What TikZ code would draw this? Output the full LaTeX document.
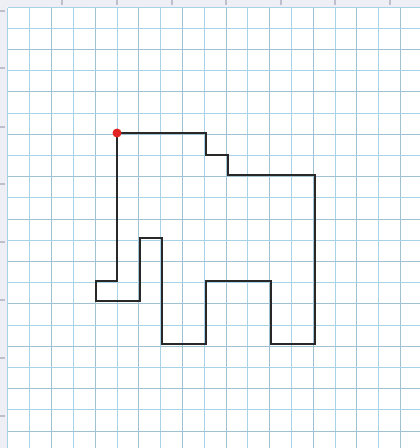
\documentclass[tikz,border=0pt]{standalone}
\definecolor{gridA}{RGB}{168,210,232}
\definecolor{gridB}{RGB}{160,192,212}
\definecolor{rulerbg}{RGB}{238,238,245}
\definecolor{rulertick}{RGB}{190,190,205}
\definecolor{outline}{RGB}{40,40,40}
\definecolor{dotred}{RGB}{225,35,35}
\tikzset{
  gridline/.style={draw=gridA, line width=1pt},
  gridlinedark/.style={draw=gridB, line width=1pt},
  rulerstyle/.style={fill=rulerbg, draw=none},
  tickstyle/.style={draw=rulertick, line width=1.2pt},
  shapeline/.style={draw=outline, line width=2.4pt, line join=miter},
  startdot/.style={fill=dotred, draw=none}
}
\begin{document}
\begin{tikzpicture}[x=1pt,y=-1pt]
\useasboundingbox (0,0) rectangle (420,448);
\fill[white] (0,0) rectangle (420,448);
% rulers
\fill[rulerstyle] (0,0) rectangle (420,7);
\fill[rulerstyle] (0,0) rectangle (7,448);
\foreach \t in {62,117,172,226,281,335,390} \draw[tickstyle] (\t,0) -- (\t,5);
\foreach \t in {11,68,127,184,242,300,358,416} \draw[tickstyle] (0,\t) -- (5,\t);
\draw[gridA, line width=0.8pt] (7.5,7.5) -- (420,7.5);
\draw[gridA, line width=0.8pt] (7.5,7.5) -- (7.5,448);
% grid
\foreach \i in {1,...,18} {
  \pgfmathsetmacro{\xx}{8+21.8*\i}
  \ifodd\i \draw[gridline] (\xx,7.5) -- (\xx,448); \else \draw[gridlinedark] (\xx,7.5) -- (\xx,448); \fi
}
\foreach \j in {1,...,20} {
  \pgfmathsetmacro{\yy}{7+21.2*\j}
  \ifodd\j \draw[gridline] (7.5,\yy) -- (420,\yy); \else \draw[gridlinedark] (7.5,\yy) -- (420,\yy); \fi
}
% shape vertices
\coordinate (p0) at (117,133);
\coordinate (p1) at (206,133);
\coordinate (p2) at (206,155);
\coordinate (p3) at (228,155);
\coordinate (p4) at (228,175);
\coordinate (p5) at (315,175);
\coordinate (p6) at (315,344);
\coordinate (p7) at (271,344);
\coordinate (p8) at (271,281);
\coordinate (p9) at (206,281);
\coordinate (p10) at (206,344);
\coordinate (p11) at (162,344);
\coordinate (p12) at (162,238);
\coordinate (p13) at (140,238);
\coordinate (p14) at (140,301);
\coordinate (p15) at (96,301);
\coordinate (p16) at (96,281);
\coordinate (p17) at (117,281);
\draw[shapeline] (p0) -- (p1) -- (p2) -- (p3) -- (p4) -- (p5) -- (p6) -- (p7) -- (p8) -- (p9) -- (p10) -- (p11) -- (p12) -- (p13) -- (p14) -- (p15) -- (p16) -- (p17) -- cycle;
\fill[startdot] (p0) circle (4.5);
\end{tikzpicture}
\end{document}
